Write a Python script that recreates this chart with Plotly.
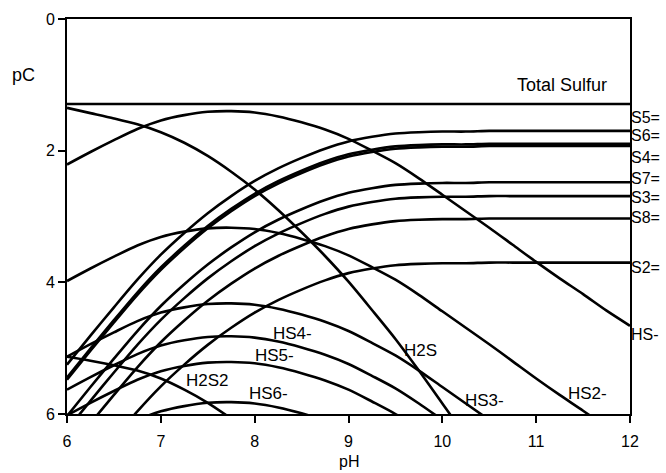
import plotly.graph_objects as go

# pH grid shared by every species curve
ph = [6.0, 6.25, 6.5, 6.75, 7.0, 7.25, 7.5, 7.75, 8.0, 8.25, 8.5, 8.75, 9.0,
      9.25, 9.5, 9.75, 10.0, 10.25, 10.5, 10.75, 11.0, 11.25, 11.5, 11.75, 12.0]

total_sulfur = [1.29] * len(ph)

hs = [2.21, 2.02, 1.84, 1.67, 1.54, 1.46, 1.41, 1.40, 1.42, 1.48, 1.57, 1.68, 1.82,
      2.00, 2.19, 2.42, 2.67, 2.92, 3.17, 3.43, 3.69, 3.94, 4.18, 4.43, 4.66]
h2s = [1.35, 1.43, 1.51, 1.60, 1.72, 1.88, 2.08, 2.32, 2.59, 2.90, 3.24, 3.60, 3.99,
       4.42, 4.86, 5.34, 5.84, 6.34]

s5 = [5.25, 4.81, 4.38, 3.96, 3.58, 3.25, 2.95, 2.69, 2.46, 2.27, 2.11, 1.97, 1.86,
      1.79, 1.74, 1.72, 1.71, 1.71, 1.70, 1.70, 1.70, 1.70, 1.70, 1.70, 1.70]
s6 = [5.445, 5.005, 4.575, 4.155, 3.775, 3.445, 3.145, 2.885, 2.655, 2.465, 2.305,
      2.165, 2.055, 1.985, 1.935, 1.915, 1.905, 1.905, 1.895, 1.895, 1.895, 1.895,
      1.895, 1.895, 1.895]
s4 = [5.48, 5.04, 4.61, 4.19, 3.81, 3.48, 3.18, 2.92, 2.69, 2.50, 2.34, 2.20, 2.09,
      2.02, 1.97, 1.95, 1.94, 1.94, 1.93, 1.93, 1.93, 1.93, 1.93, 1.93, 1.93]
s7 = [6.03, 5.59, 5.16, 4.74, 4.36, 4.03, 3.73, 3.47, 3.24, 3.05, 2.89, 2.75, 2.64,
      2.57, 2.52, 2.50, 2.49, 2.49, 2.48, 2.48, 2.48, 2.48, 2.48, 2.48, 2.48]
s3 = [6.24, 5.80, 5.37, 4.95, 4.57, 4.24, 3.94, 3.68, 3.45, 3.26, 3.10, 2.96, 2.85,
      2.78, 2.73, 2.71, 2.70, 2.70, 2.69, 2.69, 2.69, 2.69, 2.69, 2.69, 2.69]
s8 = [6.58, 6.14, 5.71, 5.29, 4.91, 4.58, 4.28, 4.02, 3.79, 3.60, 3.44, 3.30, 3.19,
      3.12, 3.07, 3.05, 3.04, 3.04, 3.03, 3.03, 3.03, 3.03, 3.03, 3.03, 3.03]
s2 = [7.25, 6.81, 6.38, 5.96, 5.58, 5.25, 4.95, 4.69, 4.46, 4.27, 4.11, 3.97, 3.86,
      3.79, 3.74, 3.72, 3.71, 3.71, 3.70, 3.70, 3.70, 3.70, 3.70, 3.70, 3.70]

hs2 = [3.98, 3.79, 3.61, 3.44, 3.31, 3.23, 3.18, 3.17, 3.19, 3.25, 3.34, 3.45, 3.59,
       3.77, 3.96, 4.19, 4.44, 4.69, 4.94, 5.20, 5.46, 5.71, 5.95, 6.20, 6.43]
hs3 = [5.13, 4.94, 4.76, 4.59, 4.46, 4.38, 4.33, 4.32, 4.34, 4.40, 4.49, 4.60, 4.74,
       4.92, 5.11, 5.34, 5.59, 5.84, 6.09]
hs4 = [5.63, 5.44, 5.26, 5.09, 4.96, 4.88, 4.83, 4.82, 4.84, 4.90, 4.99, 5.10, 5.24,
       5.42, 5.61, 5.84, 6.09]
hs5 = [6.02, 5.83, 5.65, 5.48, 5.35, 5.27, 5.22, 5.21, 5.23, 5.29, 5.38, 5.49, 5.63,
       5.81, 6.00, 6.23]
hs6 = [6.63, 6.44, 6.26, 6.09, 5.96, 5.88, 5.83, 5.82, 5.84, 5.90, 5.99, 6.10, 6.24]
h2s2 = [5.13, 5.19, 5.26, 5.34, 5.46, 5.63, 5.83, 6.07]

# labels placed at the right of the frame: (text, pC)
right_labels = [("S5=", 1.50), ("S6=", 1.77), ("S4=", 2.10), ("S7=", 2.42),
                ("S3=", 2.71), ("S8=", 3.02), ("S2=", 3.77), ("HS-", 4.79)]
# labels placed inside the plot: (text, pH, pC)
inner_labels = [("HS4-", 8.40, 4.77), ("HS5-", 8.21, 5.11), ("H2S2", 7.50, 5.49),
                ("HS6-", 8.15, 5.69), ("H2S", 9.77, 5.03), ("HS3-", 10.45, 5.79),
                ("HS2-", 11.55, 5.69)]

FONT = "Arial, Liberation Sans, sans-serif"

fig = go.Figure()

series = [total_sulfur, hs, h2s, s5, s6, s4, s7, s3, s8, s2,
          hs2, hs3, hs4, hs5, hs6, h2s2]
for ys in series:
    fig.add_trace(go.Scatter(
        x=ph[:len(ys)], y=ys, mode="lines",
        line=dict(color="black", width=2.6, shape="spline", smoothing=0.8),
        showlegend=False, hoverinfo="skip"))

for text, yv in right_labels:
    fig.add_annotation(x=1, xref="paper", y=yv, yref="y", text=text,
                       showarrow=False, xanchor="left", yanchor="middle",
                       xshift=-1, font=dict(family=FONT, size=16, color="black"))

for text, xv, yv in inner_labels:
    fig.add_annotation(x=xv, y=yv, xref="x", yref="y", text=text,
                       showarrow=False, xanchor="center", yanchor="middle",
                       font=dict(family=FONT, size=17, color="black"))

fig.add_annotation(x=11.27, y=1.0, xref="x", yref="y", text="Total Sulfur",
                   showarrow=False, xanchor="center", yanchor="middle",
                   font=dict(family=FONT, size=18, color="black"))

# axis titles
fig.add_annotation(x=-0.078, xref="paper", y=0.85, yref="y", text="pC",
                   showarrow=False, xanchor="center", yanchor="middle",
                   font=dict(family=FONT, size=18, color="black"))
fig.add_annotation(x=0.5, xref="paper", y=-0.119, yref="paper", text="pH",
                   showarrow=False, xanchor="center", yanchor="middle",
                   font=dict(family=FONT, size=16, color="black"))

axis_common = dict(showgrid=False, zeroline=False, showline=True, linecolor="black",
                   linewidth=2, mirror=True, ticks="outside", ticklen=7,
                   tickwidth=1.5, tickcolor="black",
                   tickfont=dict(family=FONT, size=16, color="black"))

fig.update_xaxes(range=[6, 12], tickvals=[6, 7, 8, 9, 10, 11, 12],
                 ticklabelstandoff=5, **axis_common)
fig.update_yaxes(range=[6, 0], tickvals=[0, 2, 4, 6], **axis_common)

fig.update_layout(width=666, height=473, margin=dict(l=67, r=36, t=19, b=59),
                  plot_bgcolor="white", paper_bgcolor="white", showlegend=False)

fig.write_html("out.html")
